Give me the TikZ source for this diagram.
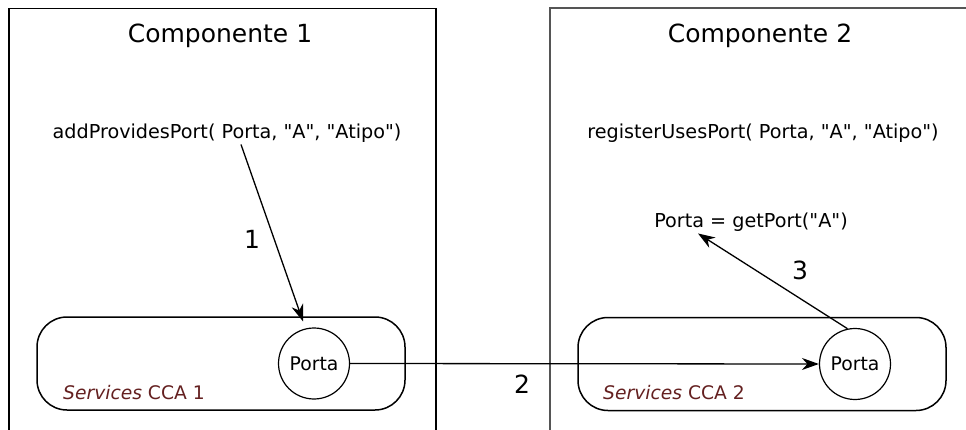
\documentclass[tikz,border=0pt]{standalone}
\usepackage{fontspec}
\setmainfont{DejaVu Sans}[Ligatures=TeXOff]
\usetikzlibrary{arrows.meta}
\definecolor{svcred}{RGB}{100,32,32}
\definecolor{framegray}{RGB}{85,85,85}
\tikzset{
  big/.style={font=\fontsize{25}{29}\selectfont, inner sep=2pt},
  call/.style={font=\fontsize{19.2}{23}\selectfont, inner sep=2pt},
  svcbox/.style={draw, line width=1.5pt, rounded corners=30pt,
    minimum width=368pt, minimum height=93pt, inner sep=0pt},
  port/.style={draw, circle, line width=1.2pt, minimum size=71pt, inner sep=0pt,
    font=\fontsize{18.8}{22}\selectfont},
  svclabel/.style={font=\fontsize{18.7}{22}\selectfont, text=svcred, anchor=west, inner sep=0pt},
  arr/.style={line width=1.3pt, -{Stealth[length=17pt,width=12pt,inset=5.5pt]}},
}
\begin{document}
\begin{tikzpicture}[x=1pt,y=-1pt]
\useasboundingbox (0,0) rectangle (966,430);
\clip (0,0) rectangle (966,430);
% component frames (open at the bottom, the second one also at the right)
\draw[line width=1.5pt] (9,440) -- (9,8.5) -- (436,8.5) -- (436,440);
\draw[line width=2pt, framegray] (550,440) -- (550,8.5) -- (980,8.5);

% titles and calls
\node[big] (comp1) at (220,36) {Componente 1};
\node[big] (comp2) at (760,36) {Componente 2};
\node[call] (call1) at (227,133) {addProvidesPort( Porta, "A", "Atipo")};
\node[call] (call2) at (763,133) {registerUsesPort( Porta, "A", "Atipo")};
\node[call] (get) at (751,222) {Porta = getPort("A")};

% services frameworks with their ports
\node[svcbox] (svc1) at (221,363.5) {};
\node[svcbox] (svc2) at (762,364) {};
\node[port] (p1) at (314,363.5) {Porta};
\node[port] (p2) at (855,364) {Porta};
\node[svclabel] (s1) at (63,393) {\textit{Services} CCA 1};
\node[svclabel] (s2) at (603,393) {\textit{Services} CCA 2};

% connectors
\draw[arr] ([xshift=14pt]call1.south) -- ([xshift=-11pt,yshift=6pt]p1.north);
\draw[arr] (p1.east) -- (p2.west);
\draw[arr] (p2.102) -- ([xshift=-53pt]get.south);

% step numbers
\node[big] (n1) at (252,239) {1};
\node[big] (n2) at (522,384) {2};
\node[big] (n3) at (800,270) {3};
\end{tikzpicture}
\end{document}
